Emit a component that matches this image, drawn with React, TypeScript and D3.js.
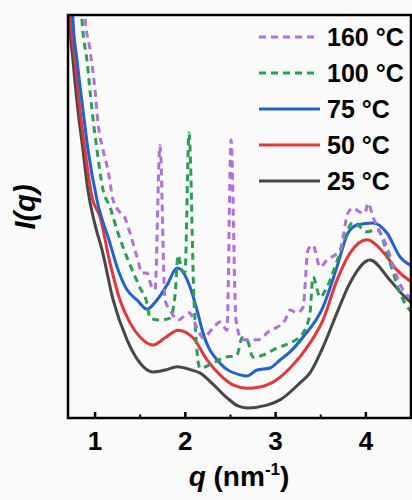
import React from "react";
import * as d3 from "d3";

// Data (q in nm^-1, I(q) in arbitrary units 0–100)
const q25 = [0.71, 0.72, 0.755, 0.81, 0.866, 0.92, 1.0, 1.077, 1.2, 1.354, 1.5, 1.64, 1.775, 1.91, 2.07, 2.16, 2.306, 2.462, 2.583, 2.683, 2.905, 3.049, 3.27, 3.381, 3.525, 3.68, 3.824, 4.046, 4.268, 4.412, 4.51];
const i25 = [108, 98.8, 88.8, 76.4, 66.5, 56.6, 47.9, 41.7, 29.3, 19.4, 13.6, 11.4, 11.9, 12.7, 11.9, 11.2, 8.4, 5.0, 3.0, 2.5, 3.2, 4.5, 8.7, 11.2, 17.6, 26.1, 33.5, 39.2, 34.2, 30.5, 28.5];

const q50 = [0.72, 0.733, 0.778, 0.833, 0.888, 0.966, 1.055, 1.165, 1.276, 1.387, 1.498, 1.642, 1.775, 1.919, 2.085, 2.24, 2.384, 2.528, 2.683, 2.827, 2.971, 3.16, 3.381, 3.525, 3.68, 3.824, 4.013, 4.19, 4.345, 4.51];
const i50 = [108, 98.8, 88.8, 76.4, 66.5, 54.8, 49.9, 38.5, 29.3, 23.6, 20.1, 18.1, 19.9, 21.8, 19.9, 14.4, 10.7, 8.2, 7.4, 7.7, 8.9, 12.4, 18.6, 24.3, 34.2, 40.9, 44.2, 41.2, 36.7, 33.7];

const q75 = [0.744, 0.755, 0.8, 0.866, 0.922, 1.021, 1.165, 1.243, 1.354, 1.464, 1.575, 1.686, 1.797, 1.908, 1.974, 2.052, 2.129, 2.196, 2.384, 2.606, 2.683, 2.794, 2.938, 3.049, 3.16, 3.304, 3.525, 3.68, 3.802, 3.902, 4.079, 4.234, 4.378, 4.51];
const i75 = [108, 98.8, 88.8, 76.4, 66.5, 54.1, 43.4, 37.5, 31.8, 29.3, 27.0, 29.3, 33.0, 37.2, 36.2, 32.5, 26.8, 21.1, 13.6, 10.7, 10.4, 11.9, 12.4, 14.4, 16.4, 20.1, 27.5, 37.5, 45.9, 47.9, 48.4, 45.9, 40.0, 37.7];

const q100 = [0.833, 0.855, 0.91, 0.966, 1.021, 1.088, 1.165, 1.254, 1.365, 1.498, 1.575, 1.608, 1.719, 1.83, 1.886, 1.919, 1.963, 1.996, 2.041, 2.096, 2.162, 2.306, 2.417, 2.572, 2.628, 2.683, 2.75, 2.86, 3.016, 3.16, 3.304, 3.381, 3.414, 3.492, 3.569, 3.713, 3.858, 4.013, 4.124, 4.268, 4.378, 4.51];
const i100 = [108, 98.8, 88.8, 76.4, 66.5, 56.6, 52.4, 45.9, 39.2, 32.3, 28.5, 24.8, 24.3, 24.8, 30.5, 40.4, 36.7, 36.2, 70.7, 29.3, 12.4, 13.6, 14.9, 15.6, 19.9, 19.4, 15.1, 15.6, 17.4, 18.6, 21.1, 26.1, 35.0, 30.0, 32.5, 40.9, 48.6, 46.2, 46.7, 38.5, 31.0, 26.1];

const q160 = [0.866, 0.888, 0.944, 0.999, 1.032, 1.088, 1.143, 1.199, 1.254, 1.332, 1.387, 1.464, 1.52, 1.575, 1.62, 1.664, 1.719, 1.775, 1.83, 1.919, 2.041, 2.14, 2.196, 2.306, 2.384, 2.462, 2.506, 2.561, 2.628, 2.683, 2.805, 2.916, 3.105, 3.16, 3.237, 3.304, 3.359, 3.414, 3.492, 3.569, 3.713, 3.802, 3.858, 3.935, 3.99, 4.024, 4.079, 4.234, 4.345, 4.434, 4.51];
const i160 = [108, 99.5, 91.3, 81.4, 73.2, 66.5, 61.5, 54.1, 51.6, 49.6, 45.9, 40.0, 36.0, 36.0, 33.0, 31.8, 67.7, 29.3, 26.8, 24.3, 26.1, 21.8, 19.9, 22.3, 23.8, 21.8, 69.0, 24.3, 19.4, 19.4, 19.4, 21.3, 24.3, 26.8, 26.1, 27.5, 41.7, 42.9, 37.5, 39.2, 41.7, 50.9, 52.1, 51.1, 50.9, 53.3, 49.9, 42.4, 35.0, 31.0, 29.8];

const seriesLabels = ["160 °C", "100 °C", "75 °C", "50 °C", "25 °C"];
const seriesColors = ["#b071dd", "#2a9e55", "#1f62d0", "#e5363b", "#474747"];
const seriesDashed = [true, true, false, false, false];
const xTicks = [1, 2, 3, 4];
const xMinorTicks = [1.5, 2.5, 3.5];
const xDomain = [0.7, 4.5];
const yDomain = [0, 100];

export default function App() {
  const W = 412, H = 500;
  const L = 68, R = 411, T = 15, B = 418;
  const x = d3.scaleLinear().domain(xDomain).range([L, R]);
  const y = d3.scaleLinear().domain(yDomain).range([B, T]);

  const qs = [q160, q100, q75, q50, q25];
  const is = [i160, i100, i75, i50, i25];
  const line = d3.line<[number, number]>()
    .x(d => x(d[0]))
    .y(d => y(d[1]))
    .curve(d3.curveMonotoneX);

  // draw order: back to front
  const order = [4, 3, 2, 1, 0];
  const font = "'Liberation Sans', Arial, sans-serif";

  return (
    <svg width={W} height={H} style={{ position: "absolute", left: 0, top: 0, background: "#fafafa" }}>
      <rect x={0} y={0} width={W} height={H} fill="#fafafa" />
      <defs>
        <clipPath id="plotclip">
          <rect x={L} y={T} width={R - L} height={B - T} />
        </clipPath>
      </defs>
      <g clipPath="url(#plotclip)">
        {order.map(k => {
          const pts: [number, number][] = qs[k].map((q, j) => [q, is[k][j]]);
          return (
            <path key={k} d={line(pts) || ""} fill="none" stroke={seriesColors[k]}
              strokeWidth={3} strokeDasharray={seriesDashed[k] ? "7 5" : undefined}
              strokeLinejoin="round" />
          );
        })}
      </g>
      {/* frame */}
      <rect x={L} y={T} width={R - L} height={B - T} fill="none" stroke="#000" strokeWidth={2.5} />
      {/* ticks */}
      {xTicks.map(t => (
        <line key={"t" + t} x1={x(t)} x2={x(t)} y1={B} y2={B - 6} stroke="#000" strokeWidth={2.5} />
      ))}
      {xMinorTicks.map(t => (
        <line key={"m" + t} x1={x(t)} x2={x(t)} y1={B} y2={B - 3.5} stroke="#000" strokeWidth={2} />
      ))}
      {xTicks.map(t => (
        <text key={"l" + t} x={x(t)} y={450} textAnchor="middle" fontFamily={font} fontWeight="bold" fontSize={26}>{t}</text>
      ))}
      {/* axis titles */}
      <text x={239} y={486} textAnchor="middle" fontFamily={font} fontWeight="bold" fontSize={28}>
        <tspan fontStyle="italic">q</tspan>
        <tspan> (nm</tspan>
        <tspan fontSize={17} dy={-11}>-1</tspan>
        <tspan dy={11}>)</tspan>
      </text>
      <text transform="translate(35,207) rotate(-90)" textAnchor="middle" fontFamily={font} fontWeight="bold" fontStyle="italic" fontSize={29}>I(q)</text>
      {/* legend */}
      {seriesLabels.map((lab, k) => {
        const cy = 37 + k * 36;
        return (
          <g key={"lg" + k}>
            <line x1={259} x2={seriesDashed[k] ? 315 : 320} y1={cy} y2={cy} stroke={seriesColors[k]} strokeWidth={3}
              strokeDasharray={seriesDashed[k] ? "7 5" : undefined} />
            <text x={327} y={cy + 9} fontFamily={font} fontWeight="bold" fontSize={25}>{lab}</text>
          </g>
        );
      })}
    </svg>
  );
}
